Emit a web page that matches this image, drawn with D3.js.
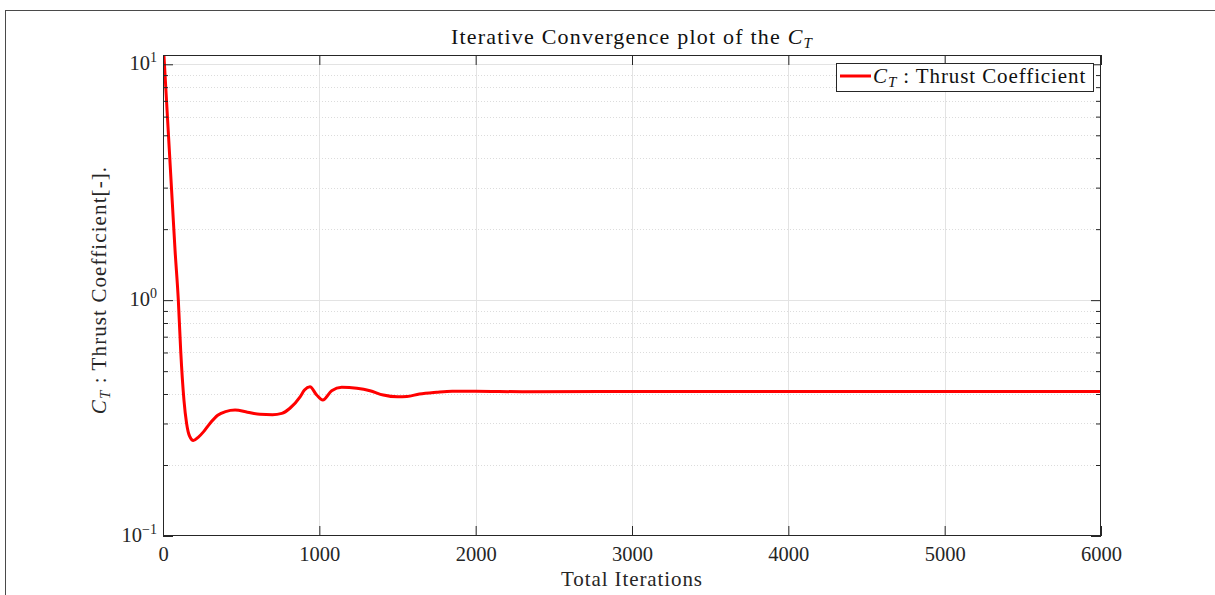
<!DOCTYPE html>
<html>
<head>
<meta charset="utf-8">
<script src="https://cdn.jsdelivr.net/npm/d3@7"></script>
<style>
  body { margin: 0; background: #fff; }
  text { font-family: "Liberation Serif", "DejaVu Serif", serif; fill: #262626; }
</style>
</head>
<body>
<script>
// data
var iterations = [0, 20, 40, 60, 77, 98, 113, 134, 151, 170, 194, 225, 260, 300, 350, 400, 461, 540, 620, 700, 760, 812, 877, 905, 940, 983, 1022, 1079, 1143, 1240, 1324, 1409, 1500, 1560, 1640, 1750, 1850, 2000, 2300, 3000, 4000, 5000, 6000];
var ctValues = [12.8, 7.5, 4.38, 2.56, 1.63, 1.0, 0.614, 0.377, 0.30, 0.265, 0.254, 0.262, 0.277, 0.30, 0.325, 0.337, 0.342, 0.335, 0.328, 0.327, 0.331, 0.348, 0.389, 0.416, 0.429, 0.396, 0.377, 0.413, 0.427, 0.423, 0.413, 0.396, 0.389, 0.390, 0.400, 0.407, 0.411, 0.411, 0.409, 0.41, 0.41, 0.41, 0.41];
var xTicks = [0, 1000, 2000, 3000, 4000, 5000, 6000];
var yMajor = [0.1, 1, 10];
var yExponents = ["\u22121", "0", "1"];
var yMinor = [0.2, 0.3, 0.4, 0.5, 0.6, 0.7, 0.8, 0.9, 2, 3, 4, 5, 6, 7, 8, 9];

var w = 1215, h = 595;
var plotLeft = 163, plotRight = 1101, plotTop = 55, plotBottom = 536;
var axisColor = "#262626";

var svg = d3.select("body").append("svg")
  .attr("width", w)
  .attr("height", h);

// figure frame (cut off at right and bottom)
svg.append("rect")
  .attr("x", 5.5).attr("y", 10.5)
  .attr("width", 1300).attr("height", 700)
  .style("fill", "none")
  .style("stroke", "#4a4a4a");

var x = d3.scaleLinear().domain([0, 6000]).range([plotLeft, plotRight]);
var y = d3.scaleLog().domain([0.1, 10.95]).range([plotBottom, plotTop]);

// grid
var grid = svg.append("g").attr("class", "grid");
grid.selectAll(".xgrid")
  .data(xTicks.slice(1, -1))
  .enter().append("line")
  .attr("x1", function(d){ return Math.round(x(d)) + 0.5; })
  .attr("x2", function(d){ return Math.round(x(d)) + 0.5; })
  .attr("y1", plotTop).attr("y2", plotBottom)
  .style("stroke", "#e3e3e3");
grid.selectAll(".ymin")
  .data(yMinor)
  .enter().append("line")
  .attr("x1", plotLeft).attr("x2", plotRight)
  .attr("y1", function(d){ return Math.round(y(d)) + 0.5; })
  .attr("y2", function(d){ return Math.round(y(d)) + 0.5; })
  .style("stroke", "#dcdcdc")
  .style("stroke-dasharray", "1,2");
grid.selectAll(".ymaj")
  .data([1, 10])
  .enter().append("line")
  .attr("x1", plotLeft).attr("x2", plotRight)
  .attr("y1", function(d){ return Math.round(y(d)) + 0.5; })
  .attr("y2", function(d){ return Math.round(y(d)) + 0.5; })
  .style("stroke", "#e3e3e3");

// the curve
var line = d3.line()
  .x(function(d){ return x(d[0]); })
  .y(function(d){ return y(d[1]); })
  .curve(d3.curveMonotoneX);

svg.append("clipPath").attr("id", "clip")
  .append("rect").attr("x", plotLeft).attr("y", plotTop)
  .attr("width", plotRight - plotLeft).attr("height", plotBottom - plotTop);

svg.append("path")
  .datum(d3.zip(iterations, ctValues))
  .attr("clip-path", "url(#clip)")
  .attr("d", line)
  .style("fill", "none")
  .style("stroke", "#ff0000")
  .style("stroke-width", 3);

// axes, ticks pointing inwards
function styleAxis(g){
  g.selectAll(".domain").remove();
  g.selectAll("line").style("stroke", axisColor);
}
svg.append("g").attr("transform", "translate(0," + plotBottom + ")")
  .call(d3.axisBottom(x).tickValues(xTicks).tickSize(-10).tickPadding(8).tickFormat(d3.format("d")))
  .call(styleAxis)
  .call(function(g){
    g.selectAll("text").attr("y", 25).attr("dy", null)
      .style("font-size", "20.5px").style("fill", axisColor)
      .style("font-family", '"Liberation Serif", serif');
  });
svg.append("g").attr("transform", "translate(0," + plotTop + ")")
  .call(d3.axisTop(x).tickValues(xTicks).tickSize(-10).tickFormat(""))
  .call(styleAxis);
svg.append("g").attr("transform", "translate(" + plotLeft + ",0)")
  .call(d3.axisLeft(y).tickValues(yMajor).tickSize(-10).tickFormat(""))
  .call(styleAxis);
svg.append("g").attr("transform", "translate(" + plotLeft + ",0)")
  .call(d3.axisLeft(y).tickValues(yMinor).tickSize(-5).tickFormat(""))
  .call(styleAxis);
svg.append("g").attr("transform", "translate(" + plotRight + ",0)")
  .call(d3.axisRight(y).tickValues(yMajor).tickSize(-10).tickFormat(""))
  .call(styleAxis);
svg.append("g").attr("transform", "translate(" + plotRight + ",0)")
  .call(d3.axisRight(y).tickValues(yMinor).tickSize(-5).tickFormat(""))
  .call(styleAxis);

// box
svg.append("rect")
  .attr("x", plotLeft + 0.5).attr("y", plotTop + 0.5)
  .attr("width", plotRight - plotLeft - 1).attr("height", plotBottom - plotTop - 1)
  .style("fill", "none").style("stroke", axisColor);

// y tick labels 10^n
var ylab = svg.selectAll(".ylab")
  .data(yMajor)
  .enter().append("text")
  .attr("class", "ylab")
  .attr("text-anchor", "end")
  .attr("x", 157)
  .attr("y", function(d){ return y(d) + 6; })
  .style("font-size", "20.5px");
ylab.append("tspan").text("10");
ylab.append("tspan")
  .attr("dy", -8)
  .style("font-size", "14px")
  .text(function(d, i){ return yExponents[i]; });

// title
var title = svg.append("text")
  .attr("x", (plotLeft + plotRight) / 2)
  .attr("y", 44)
  .attr("text-anchor", "middle")
  .style("font-size", "22px")
  .style("letter-spacing", "1.2px")
  .style("fill", "#111");
title.append("tspan").text("Iterative Convergence plot of the ");
title.append("tspan").style("font-style", "italic").text("C");
title.append("tspan").style("font-style", "italic").style("font-size", "15px").attr("dy", 4).text("T");

// x label
svg.append("text")
  .attr("x", (plotLeft + plotRight) / 2)
  .attr("y", 586)
  .attr("text-anchor", "middle")
  .style("font-size", "21px")
  .style("letter-spacing", "0.9px")
  .text("Total Iterations");

// y label
var ylabel = svg.append("text")
  .attr("transform", "translate(106,290) rotate(-90)")
  .attr("text-anchor", "middle")
  .style("font-size", "21px")
  .style("letter-spacing", "1.1px");
ylabel.append("tspan").style("font-style", "italic").text("C");
ylabel.append("tspan").style("font-style", "italic").style("font-size", "15px").attr("dy", 4).text("T");
ylabel.append("tspan").attr("dy", -4).text(" : Thrust Coefficient[-].");

// legend
var legend = svg.append("g").attr("class", "legend");
legend.append("rect")
  .attr("x", 836.5).attr("y", 63.5)
  .attr("width", 257).attr("height", 28)
  .style("fill", "#fff").style("stroke", axisColor);
legend.append("line")
  .attr("x1", 840).attr("x2", 871)
  .attr("y1", 76).attr("y2", 76)
  .style("stroke", "#ff0000").style("stroke-width", 3);
var ltext = legend.append("text")
  .attr("x", 873).attr("y", 83)
  .style("font-size", "21px")
  .style("letter-spacing", "0.9px")
  .style("fill", "#111");
ltext.append("tspan").style("font-style", "italic").text("C");
ltext.append("tspan").style("font-style", "italic").style("font-size", "15px").attr("dy", 4).text("T");
ltext.append("tspan").attr("dy", -4).text(" : Thrust Coefficient");
</script>
</body>
</html>
